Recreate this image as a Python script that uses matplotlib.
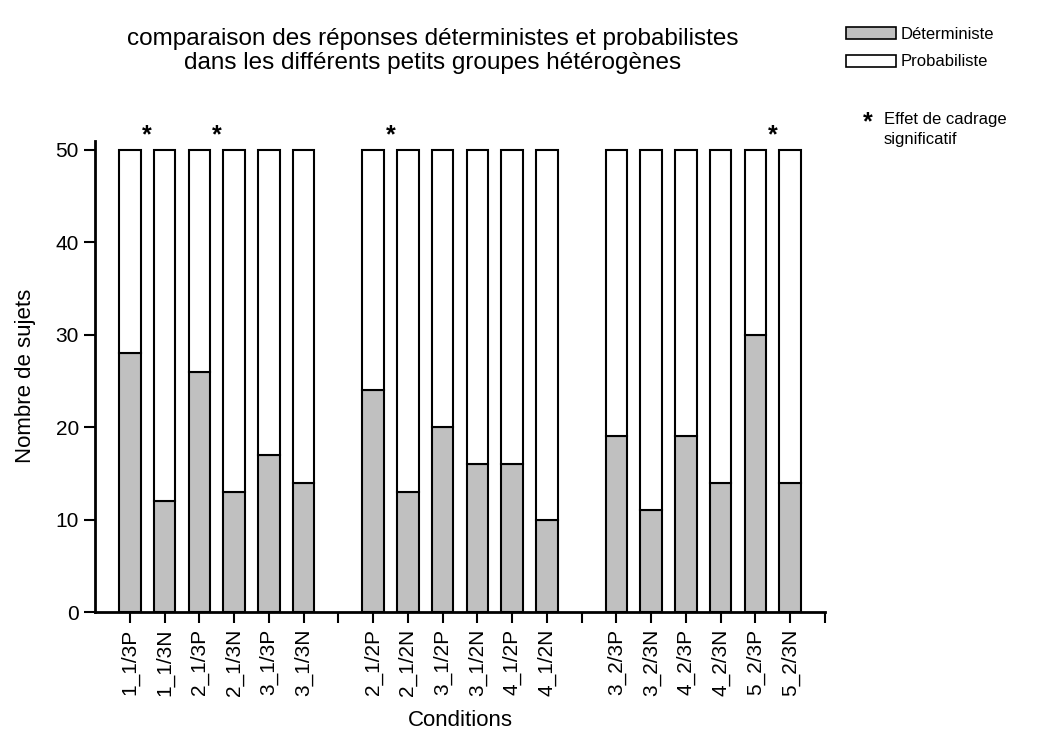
import matplotlib
matplotlib.use("Agg")
import matplotlib.pyplot as plt
from matplotlib.patches import Patch
import numpy as np

plt.rcParams['font.family'] = ['Liberation Sans', 'DejaVu Sans']

categories = ["1_1/3P", "1_1/3N", "2_1/3P", "2_1/3N", "3_1/3P", "3_1/3N",
              "2_1/2P", "2_1/2N", "3_1/2P", "3_1/2N", "4_1/2P", "4_1/2N",
              "3_2/3P", "3_2/3N", "4_2/3P", "4_2/3N", "5_2/3P", "5_2/3N"]
groups = [0, 0, 0, 0, 0, 0, 1, 1, 1, 1, 1, 1, 2, 2, 2, 2, 2, 2]
deterministe = [28, 12, 26, 13, 17, 14,
                24, 13, 20, 16, 16, 10,
                19, 11, 19, 14, 30, 14]
total = [50] * 18
probabiliste = [t - d for t, d in zip(total, deterministe)]
# significant framing effect marked between pairs (index of the P member)
significant_pairs = [0, 2, 6, 16]

fig = plt.figure(figsize=(10.38, 7.32), dpi=100)
ax = fig.add_axes([95/1038, 1-612/732, (825-95)/1038, (612-140.7)/732])

pos = np.array([i + g for i, g in enumerate(groups)], dtype=float)
w = 0.62
ax.bar(pos, deterministe, width=w, color='#c0c0c0', edgecolor='black', linewidth=1.5, zorder=2)
ax.bar(pos, probabiliste, width=w, bottom=deterministe, color='white', edgecolor='black', linewidth=1.5, zorder=2)

for i in significant_pairs:
    ax.text((pos[i] + pos[i+1]) / 2, 51.6, '*', ha='center', va='center', fontsize=18, fontweight='bold')

ax.set_xlim(-1, 20)
ax.set_ylim(0, 51)
ax.set_yticks([0, 10, 20, 30, 40, 50])
all_ticks = np.arange(0, 21)
ax.set_xticks(all_ticks)
labels = [''] * 21
for p, c in zip(pos, categories):
    labels[int(p)] = c
ax.set_xticklabels(labels, rotation=90)
ax.tick_params(axis='both', direction='out', length=8, width=1.5, labelsize=15)
ax.tick_params(axis='x', pad=4)
for s in ['top', 'right']:
    ax.spines[s].set_visible(False)
for s in ['left', 'bottom']:
    ax.spines[s].set_linewidth(2)

ax.set_ylabel('Nombre de sujets', fontsize=16, labelpad=14)
ax.set_xlabel('Conditions', fontsize=16, labelpad=10)

fig.text(433/1038, 1-51/732, 'comparaison des réponses déterministes et probabilistes\ndans les différents petits groupes hétérogènes',
         ha='center', va='center', fontsize=17.5, linespacing=1.12)

handles = [Patch(facecolor='#c0c0c0', edgecolor='black', linewidth=1.2, label='Déterministe'),
           Patch(facecolor='white', edgecolor='black', linewidth=1.2, label='Probabiliste')]
fig.legend(handles=handles, loc='upper left', bbox_to_anchor=(846/1038, 1-27/732), frameon=False,
           fontsize=12, handlelength=3.0, handleheight=0.75, labelspacing=0.75, handletextpad=0.3,
           borderpad=0, borderaxespad=0)

fig.text(868/1038, 1-122/732, '*', ha='center', va='center', fontsize=18, fontweight='bold')
fig.text(884/1038, 1-112/732, 'Effet de cadrage\nsignificatif', ha='left', va='top', fontsize=12, linespacing=1.45)

fig.savefig('out.png', dpi=100)
